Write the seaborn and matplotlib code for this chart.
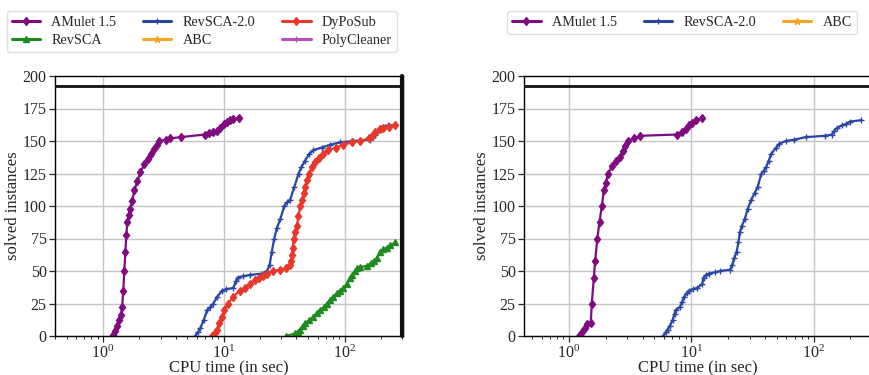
import numpy as np
import pandas as pd
import matplotlib
matplotlib.use("Agg")
import matplotlib.pyplot as plt
from matplotlib.lines import Line2D
import seaborn as sns

# ---------------- data ----------------
# Left panel
amulet_l_t = [1.21, 1.25, 1.30, 1.35, 1.40, 1.44, 1.47, 1.50, 1.53, 1.56, 1.59, 1.63, 1.68, 1.74,
              1.82, 1.92, 2.04, 2.2, 2.35, 2.5, 2.65, 2.8, 2.9, 3.3, 3.6, 4.4, 7.0, 7.6, 8.2, 8.8,
              9.3, 10.0, 10.6, 11.2, 12.0, 13.3]
amulet_l_n = [1, 4, 8, 12, 16, 22, 35, 50, 65, 78, 88, 93, 98, 104, 112, 119, 126, 132, 136, 140,
              144, 147, 150, 151, 152, 153, 155, 156, 157, 158, 160, 163, 165, 166, 167, 168]

revsca2_l_t = [5.8, 6.1, 6.4, 6.8, 7.3, 7.7, 8.2, 8.8, 9.7, 10.5, 12.0, 12.6, 13.0, 14.5, 16.6,
               20.7, 22.8, 24.0, 25.0, 26.2, 27.5, 29.4, 31.7, 33.5, 35.5, 38.5, 41.6, 44.0, 47.2,
               51.0, 55.3, 64.6, 75.8, 92, 118, 163, 172, 179, 188, 197, 215, 231, 263]
revsca2_l_n = [0, 3, 6, 12, 20, 22, 25, 30, 35, 36, 37, 42, 45, 46, 47, 48, 50, 55, 65, 75, 83,
               90, 100, 103, 105, 115, 125, 130, 135, 140, 143, 145, 147, 149, 150, 151, 153, 155,
               158, 160, 161, 162, 162]

dyposub_l_t = [8.0, 8.4, 8.8, 9.2, 9.7, 10.1, 10.8, 12.0, 13.5, 15.0, 16.6, 18.0, 19.4, 21.0, 22.8,
               25.8, 29.0, 32.9, 35.1, 36.2, 36.7, 37.3, 37.8, 39.0, 40.3, 41.5, 43.0, 44.5, 45.8,
               47.3, 48.8, 51.0, 53.7, 57.0, 61.0, 66.0, 73.6, 85.0, 98.0, 115, 135, 158, 168, 179,
               195, 210, 235, 263]
dyposub_l_n = [0, 2, 5, 10, 15, 20, 25, 30, 35, 37, 40, 43, 45, 46, 48, 50, 51, 52, 55, 58, 62, 68,
               75, 80, 85, 92, 100, 105, 110, 115, 120, 125, 130, 134, 137, 140, 143, 145, 147, 149,
               150, 152, 154, 157, 159, 160, 161, 162]

revsca_l_t = [32.9, 39.0, 41.0, 43.0, 45.0, 47.2, 51.0, 55.3, 59.0, 63.0, 67.0, 71.4, 76.0, 81.0,
              86.0, 92.0, 98.0, 104, 111, 116, 122, 128, 135, 153, 165, 175, 185, 197, 210, 224,
              240, 263]
revsca_l_n = [0, 2, 3, 5, 8, 10, 12, 15, 18, 20, 22, 25, 28, 30, 33, 35, 37, 40, 45, 47, 50, 52,
              53, 54, 56, 58, 60, 65, 67, 68, 70, 72]

# Right panel
amulet_r_t = [1.22, 1.28, 1.35, 1.42, 1.51, 1.54, 1.60, 1.64, 1.71, 1.78, 1.86, 1.93, 2.0, 2.1,
              2.25, 2.45, 2.6, 2.75, 2.9, 3.05, 3.4, 3.8, 7.7, 8.4, 9.0, 9.6, 10.2, 11.0, 12.3]
amulet_r_n = [0, 3, 6, 9, 10, 25, 45, 58, 75, 88, 100, 112, 118, 125, 131, 135, 138, 142, 146,
              150, 152, 154, 155, 157, 159, 162, 164, 166, 168]

revsca2_r_t = [5.9, 6.2, 6.4, 6.7, 7.03, 7.3, 7.48, 8.05, 8.4, 8.73, 9.2, 9.58, 10.3, 11.2, 12.3,
               12.6, 13.2, 13.9, 15.7, 17.2, 20.8, 21.7, 22.5, 23.5, 24.3, 25.0, 26.0, 27.4, 29.0,
               31.0, 33.0, 35.0, 37.4, 39.0, 41.0, 43.0, 45.0, 49.4, 52.5, 59.4, 69.4, 86.0, 125,
               141, 148, 155, 170, 185, 199, 245]
revsca2_r_n = [0, 3, 5, 8, 12, 17, 20, 22, 26, 30, 33, 35, 36, 37, 40, 45, 47, 48, 49, 50, 51, 55,
               60, 65, 72, 80, 85, 90, 98, 105, 110, 115, 125, 127, 130, 135, 140, 145, 148, 150,
               151, 153, 154, 155, 158, 160, 162, 163, 165, 166]

total_instances = 192
timeout = 300

left_tools = ["AMulet 1.5", "RevSCA", "RevSCA-2.0", "ABC", "DyPoSub", "PolyCleaner"]
right_tools = ["AMulet 1.5", "RevSCA-2.0", "ABC"]

colors = {"AMulet 1.5": "#800a80", "RevSCA-2.0": "#2b45a5", "DyPoSub": "#e8382b",
          "RevSCA": "#1f8a1f", "ABC": "#f5a623", "PolyCleaner": "#bb4dbb"}
markers = {"AMulet 1.5": "d", "RevSCA-2.0": "+", "DyPoSub": "d",
           "RevSCA": "^", "ABC": "*", "PolyCleaner": "+"}

# ---------------- style ----------------
sns.set_style("ticks")
plt.rcParams["font.family"] = ["Liberation Serif", "DejaVu Serif"]
plt.rcParams["mathtext.fontset"] = "stix"

fig = plt.figure(figsize=(8.69, 3.75), dpi=100)
ax_l = fig.add_axes([55 / 869, 39 / 375, 348 / 869, 260 / 375])
ax_r = fig.add_axes([524 / 869, 39 / 375, 348 / 869, 260 / 375])


def draw(ax, series, xlim):
    for name, t, n in series:
        df = pd.DataFrame({"t": t, "n": n})
        sns.lineplot(data=df, x="t", y="n", ax=ax, color=colors[name], marker=markers[name],
                     markersize=4.5, markeredgewidth=1.0, markeredgecolor=colors[name],
                     linewidth=1.6, sort=False, estimator=None, legend=False)
    ax.set_xscale("log")
    ax.set_xlim(*xlim)
    ax.set_ylim(0, 200)
    ax.set_yticks(np.arange(0, 201, 25))
    ax.axhline(total_instances, color="#111111", lw=2.0, zorder=5)
    ax.axvline(timeout, color="#111111", lw=3.0, zorder=5, clip_on=False)
    ax.grid(True, which="major", color="#c4c4c4", lw=1.0)
    ax.set_axisbelow(True)
    ax.set_xlabel("CPU time (in sec)", fontsize=12, labelpad=-1)
    ax.set_ylabel("solved instances", fontsize=12, labelpad=1)
    ax.tick_params(axis="both", which="major", labelsize=11.5, length=4, width=0.9, pad=2)
    ax.tick_params(axis="x", which="minor", length=2, width=0.7)
    for s in ax.spines.values():
        s.set_color("black")
        s.set_linewidth(1.0)


draw(ax_l, [("AMulet 1.5", amulet_l_t, amulet_l_n),
            ("RevSCA-2.0", revsca2_l_t, revsca2_l_n),
            ("DyPoSub", dyposub_l_t, dyposub_l_n),
            ("RevSCA", revsca_l_t, revsca_l_n)], (0.4, 305))
draw(ax_r, [("AMulet 1.5", amulet_r_t, amulet_r_n),
            ("RevSCA-2.0", revsca2_r_t, revsca2_r_n)], (0.43, 300))


def handles(names):
    return [Line2D([], [], color=colors[n], lw=2.2, marker=markers[n], markersize=4.5,
                   markeredgewidth=1.0) for n in names]


leg_kw = dict(fontsize=10.2, frameon=True, edgecolor="#d8d8d8", handlelength=2.0,
              columnspacing=1.9, borderpad=0.35, labelspacing=0.35, handletextpad=0.8,
              fancybox=True)
fig.legend(handles(left_tools), left_tools, ncol=3, loc="upper right",
           bbox_to_anchor=(404 / 869, 1 - 4 / 375), **leg_kw)
fig.legend(handles(right_tools), right_tools, ncol=3, loc="upper right",
           bbox_to_anchor=(864 / 869, 1 - 4 / 375), **leg_kw)

fig.savefig("out.png", dpi=100)
